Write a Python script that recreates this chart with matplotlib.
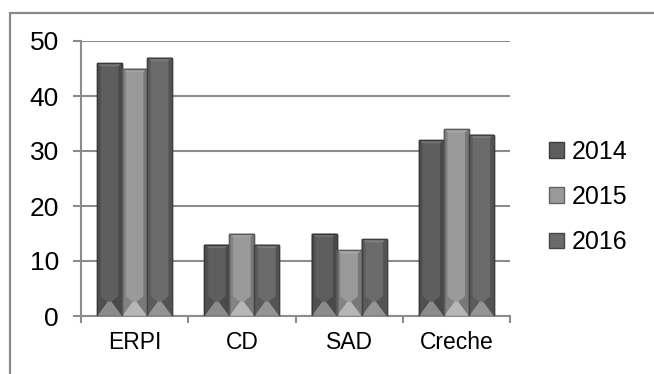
import matplotlib
matplotlib.use("Agg")
import matplotlib.pyplot as plt
import numpy as np
from matplotlib.patches import Polygon, Rectangle
from matplotlib.colors import to_rgb

plt.rcParams['font.family'] = ['Liberation Sans', 'DejaVu Sans']

categories = ['ERPI', 'CD', 'SAD', 'Creche']
years = ['2014', '2015', '2016']
v2014 = [46, 13, 15, 32]
v2015 = [45, 15, 12, 34]
v2016 = [47, 13, 14, 33]
series = [v2014, v2015, v2016]
colors = ['#5e5e5e', '#9a9a9a', '#6b6b6b']


def shade(c, f):
    r, g, b = to_rgb(c)
    if f >= 0:
        return (r + (1 - r) * f, g + (1 - g) * f, b + (1 - b) * f)
    return (r * (1 + f), g * (1 + f), b * (1 + f))


fig = plt.figure(figsize=(6.54, 3.74), dpi=100)
fig.patches.append(Rectangle((10 / 654, -0.2), 1.2, 1.2 - 13 / 374,
                             transform=fig.transFigure, fill=False,
                             edgecolor='#8a8a8a', linewidth=1.6))
ax = fig.add_axes([81 / 654, 1 - 316 / 374, (510 - 81) / 654, (316 - 41) / 374])

x = np.arange(len(categories))
w = 0.233
for i, (vals, c) in enumerate(zip(series, colors)):
    bars = ax.bar(x + (i - 1) * w, vals, w, color=c, edgecolor=shade(c, -0.35),
                  linewidth=1.0, label=years[i], zorder=3)
    # bevelled faces on each bar
    for p in bars.patches:
        x0, y0 = p.get_x(), p.get_y()
        x1, y1 = x0 + p.get_width(), y0 + p.get_height()
        bx, tb = 0.42 * (x1 - x0), 0.6
        by = min(2.6, (y1 - y0) * 0.3)
        sx = 0.035
        faces = [
            ([(x0, y0), (x1, y0), (x1 - bx, y0 + by), (x0 + bx, y0 + by)], 0.28),
            ([(x0, y1), (x1, y1), (x1 - sx, y1 - tb), (x0 + sx, y1 - tb)], 0.15),
            ([(x0, y0), (x0 + bx, y0 + by), (x0 + sx, y0 + by + 1.0), (x0 + sx, y1 - tb), (x0, y1)], -0.15),
            ([(x1, y0), (x1 - bx, y0 + by), (x1 - sx, y0 + by + 1.0), (x1 - sx, y1 - tb), (x1, y1)], -0.22),
        ]
        for pts, f in faces:
            ax.add_patch(Polygon(pts, closed=True, facecolor=shade(c, f),
                                 edgecolor='none', zorder=3.5))
        ax.add_patch(Rectangle((x0, y0), x1 - x0, y1 - y0, fill=False,
                               edgecolor=shade(c, -0.4), linewidth=1.0, zorder=4))

ax.set_xlim(-0.5, 3.5)
ax.set_ylim(0, 50)
ax.set_yticks(range(0, 51, 10))
ax.yaxis.grid(True, color='#8c8c8c', linewidth=1.5, zorder=0)
ax.set_axisbelow(True)
for s in ['top', 'right']:
    ax.spines[s].set_visible(False)
for s in ['left', 'bottom']:
    ax.spines[s].set_color('#8c8c8c')
    ax.spines[s].set_linewidth(1.5)
ax.tick_params(axis='y', length=5.8, width=1.5, color='#8c8c8c', labelsize=19, pad=10)
ax.set_xticks(x)
ax.set_xticklabels(categories, fontsize=16.5)
ax.tick_params(axis='x', length=0, pad=11)
ax.set_xticks(np.arange(-0.5, 4, 1), minor=True)
ax.tick_params(axis='x', which='minor', length=5, width=1.5, color='#8c8c8c')

handles, labels = ax.get_legend_handles_labels()
leg = fig.legend(handles, labels, loc='center left', bbox_to_anchor=(549 / 654, 1 - 197 / 374),
                 frameon=False, fontsize=18, handlelength=0.6, handleheight=0.6,
                 labelspacing=0.85, handletextpad=0.3, borderpad=0, borderaxespad=0)

fig.savefig('out.png', dpi=100)
